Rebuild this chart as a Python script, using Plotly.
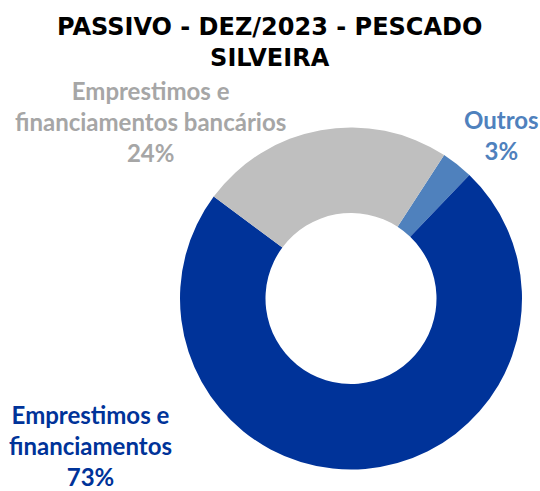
import plotly.graph_objects as go

# Data
categories = ["Outros", "Emprestimos e financiamentos", "Emprestimos e financiamentos bancários"]
label_lines = ["Outros", "Emprestimos e<br>financiamentos", "Emprestimos e<br>financiamentos bancários"]
values = [3, 73, 24]
colors = ["#4F81BD", "#003399", "#BFBFBF"]
label_colors = ["#4F81BD", "#003399", "#A6A6A6"]
title_text = "PASSIVO - DEZ/2023 - PESCADO<br>SILVEIRA"

W, H = 540, 491
cx, cy, r = 351, 298.5, 171

fig = go.Figure()
fig.add_trace(go.Pie(
    labels=categories,
    values=values,
    hole=0.5,
    sort=False,
    direction="clockwise",
    rotation=33,
    marker=dict(colors=colors, line=dict(width=0)),
    textinfo="none",
    hoverinfo="label+percent",
    showlegend=False,
    domain=dict(x=[(cx - r) / W, (cx + r) / W],
                y=[(H - cy - r) / H, (H - cy + r) / H]),
))

total = sum(values)
# label anchor positions (paper px, from top-left)
label_pos = [(501, 135), (90, 445), (150, 122)]
for i, (lx, ly) in enumerate(label_pos):
    pct = round(values[i] / total * 100)
    fig.add_annotation(
        x=lx / W, y=1 - ly / H, xref="paper", yref="paper",
        text=f"{label_lines[i]}<br>{pct}%",
        showarrow=False, xanchor="center", yanchor="middle",
        font=dict(family="Lato", size=24, color=label_colors[i], weight="bold"),
        align="center",
    )

fig.add_annotation(
    x=269 / W, y=1 - 42 / H, xref="paper", yref="paper",
    text=f"<b>{title_text}</b>", showarrow=False,
    xanchor="center", yanchor="middle",
    font=dict(family="DejaVu Sans", size=24, color="#000000"),
    align="center",
)

fig.update_layout(
    width=W, height=H,
    margin=dict(l=0, r=0, t=0, b=0),
    paper_bgcolor="white",
    plot_bgcolor="white",
)

fig.write_html(
    "out.html",
    config={"displayModeBar": False},
    post_script="document.body.style.margin='0';document.body.style.padding='0';document.body.style.overflow='hidden';",
)
